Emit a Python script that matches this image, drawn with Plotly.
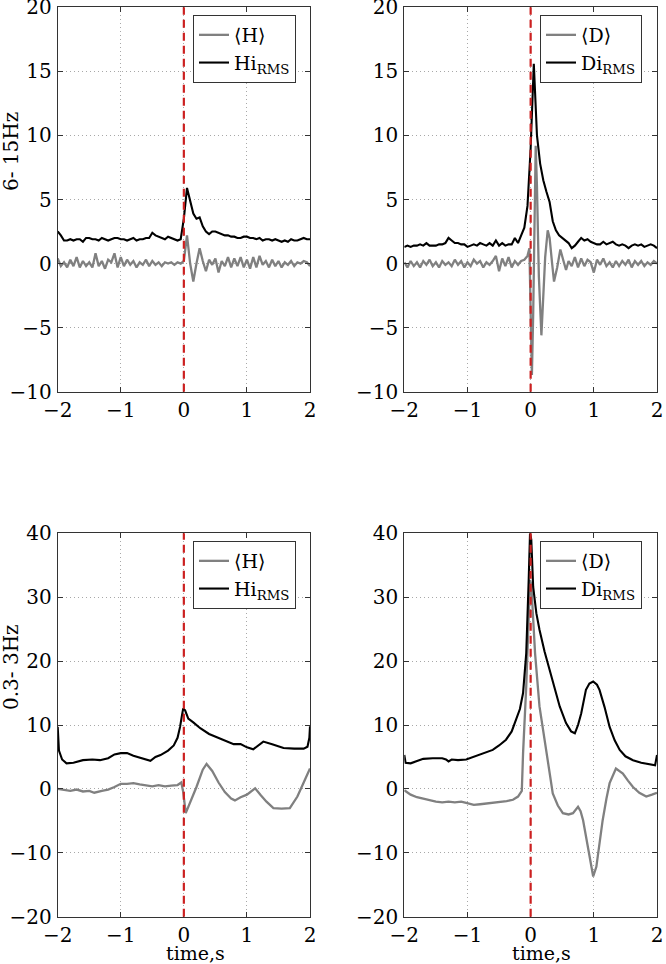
import numpy as np
import plotly.graph_objects as go

# ---------------- data ----------------
T_GRID = np.round(np.arange(-2.0, 2.0001, 0.05), 2).tolist()  # 81 samples, -2..2 s

# Top-left: 6-15 Hz, H
H_MEAN_TL = [0.4, -0.2, 0.1, -0.3, 0.3, -0.2, 0.5, -0.3, 0.2, -0.2,
             0.1, -0.3, 0.8, -0.2, 0.2, -0.4, 0.3, 0.1, 0.8, -0.3,
             0.5, -0.2, 0.3, -0.1, 0.2, -0.3, 0.1, -0.1, 0.3, -0.2,
             0.2, -0.1, 0.1, -0.2, 0.1, 0.0, 0.1, -0.1, 0.1, 0.0,
             0.2, 2.2, 0.0, -1.4, 0.0, 1.2, 0.2, -0.6, 0.3, -0.1,
             0.4, -0.7, 0.2, -0.2, 0.5, -0.3, 0.4, -0.2, 0.5, -0.3,
             0.3, -0.4, 0.5, -0.3, 0.6, -0.1, 0.2, -0.3, 0.3, -0.2,
             0.2, -0.3, 0.1, -0.1, 0.2, -0.2, 0.1, 0.0, 0.2, 0.1, -0.2]
H_RMS_TL = [2.5, 2.2, 1.8, 1.8, 1.9, 1.8, 1.9, 1.9, 1.7, 2.0,
            2.0, 1.9, 1.9, 1.8, 2.0, 1.9, 1.8, 1.9, 2.0, 2.0,
            1.9, 1.9, 1.8, 1.9, 2.0, 1.8, 1.9, 1.9, 2.0, 2.0,
            2.4, 2.2, 2.1, 2.0, 1.9, 2.1, 2.0, 1.9, 1.8, 1.9,
            3.5, 5.9, 4.8, 3.9, 3.5, 3.6, 2.9, 2.5, 2.3, 2.5,
            2.5, 2.4, 2.3, 2.2, 2.2, 2.1, 2.1, 2.0, 2.0, 2.1,
            2.1, 2.0, 2.0, 1.9, 2.0, 1.8, 1.9, 1.9, 1.8, 1.9,
            1.8, 1.7, 1.8, 1.7, 1.9, 1.8, 1.8, 1.9, 2.0, 1.9, 1.9]

# Top-right: 6-15 Hz, D
T_D_MEAN_TR = [-2.00, -1.95, -1.90, -1.85, -1.80, -1.75, -1.70, -1.65, -1.60, -1.55,
               -1.50, -1.45, -1.40, -1.35, -1.30, -1.25, -1.20, -1.15, -1.10, -1.05,
               -1.00, -0.95, -0.90, -0.85, -0.80, -0.75, -0.70, -0.65, -0.60, -0.55,
               -0.50, -0.45, -0.40, -0.35, -0.30, -0.25, -0.20, -0.15, -0.10, -0.05,
               -0.02, 0.00, 0.02, 0.04, 0.06, 0.08, 0.10, 0.13, 0.17, 0.20,
               0.23, 0.27, 0.30, 0.34, 0.37, 0.42, 0.47, 0.52, 0.56, 0.60,
               0.65, 0.70, 0.75, 0.80, 0.85, 0.90, 0.95, 1.00, 1.05, 1.10,
               1.15, 1.20, 1.25, 1.30, 1.35, 1.40, 1.45, 1.50, 1.55, 1.60,
               1.65, 1.70, 1.75, 1.80, 1.85, 1.90, 1.95, 2.00]
D_MEAN_TR = [0.1, -0.3, 0.2, -0.2, 0.1, -0.3, 0.2, -0.1, 0.3, -0.2,
             0.1, -0.3, 0.2, -0.1, 0.1, -0.2, 0.3, -0.1, 0.2, -0.3,
             0.1, -0.2, 0.3, 0.0, 0.2, -0.3, 0.1, -0.1, 0.2, 0.6,
             -0.6, 0.4, -0.2, 0.5, -0.3, 0.2, -0.1, 0.2, 0.3, 0.6,
             1.2, -3.0, -8.7, -4.0, 4.0, 9.2, 6.0, -1.0, -5.6, -3.0,
             0.5, 2.6, 2.0, 0.0, -1.4, -0.3, 1.1, 0.2, -0.5, 0.2,
             -0.2, 0.5, -0.3, 0.4, -0.2, 0.3, 0.1, -0.7, 0.3, -0.1,
             0.4, -0.2, 0.1, -0.3, 0.2, -0.2, 0.2, -0.1, 0.3, -0.3,
             0.2, -0.1, 0.2, -0.2, 0.1, -0.1, 0.2, 0.0]
D_RMS_TR = [1.3, 1.4, 1.3, 1.4, 1.4, 1.5, 1.4, 1.6, 1.4, 1.4,
            1.4, 1.5, 1.5, 1.6, 2.0, 1.8, 1.6, 1.6, 1.5, 1.5,
            1.3, 1.4, 1.5, 1.4, 1.6, 1.5, 1.4, 1.6, 1.4, 1.8,
            1.4, 1.6, 1.4, 1.5, 1.5, 2.0, 1.6, 2.2, 2.8, 4.5,
            9.0, 15.6, 10.0, 7.8, 6.5, 5.6, 4.8, 3.3, 2.6, 2.2,
            2.0, 1.8, 1.6, 1.2, 1.4, 1.7, 2.0, 1.8, 1.9, 1.7,
            1.6, 1.5, 1.5, 1.7, 1.5, 1.6, 1.7, 1.5, 1.4, 1.5,
            1.4, 1.2, 1.4, 1.5, 1.4, 1.5, 1.3, 1.4, 1.5, 1.4, 1.2]

# Bottom-left: 0.3-3 Hz, H
T_H_RMS_BL = [-2.00, -1.98, -1.93, -1.86, -1.75, -1.60, -1.45, -1.33, -1.20, -1.10,
              -1.00, -0.90, -0.80, -0.70, -0.60, -0.53, -0.45, -0.37, -0.25, -0.16,
              -0.10, -0.06, -0.03, -0.01, 0.02, 0.07, 0.15, 0.26, 0.40, 0.52,
              0.65, 0.79, 0.90, 1.00, 1.10, 1.18, 1.26, 1.40, 1.58, 1.75,
              1.90, 1.96, 1.99, 2.00]
H_RMS_BL = [9.7, 6.0, 4.6, 4.0, 4.1, 4.5, 4.6, 4.5, 4.8, 5.4,
            5.6, 5.6, 5.2, 4.9, 4.6, 4.4, 5.0, 5.3, 6.0, 6.8,
            8.0, 9.7, 11.5, 12.6, 12.3, 11.0, 10.4, 9.5, 8.6, 8.1,
            7.5, 7.0, 7.0, 6.5, 6.2, 6.8, 7.4, 7.0, 6.4, 6.3,
            6.3, 6.6, 8.0, 9.8]
T_H_MEAN_BL = [-2.00, -1.90, -1.80, -1.70, -1.60, -1.50, -1.42, -1.30, -1.20, -1.10,
               -1.00, -0.90, -0.80, -0.70, -0.60, -0.50, -0.40, -0.30, -0.20, -0.10,
               -0.04, -0.01, 0.03, 0.10, 0.20, 0.30, 0.36, 0.45, 0.55, 0.65,
               0.75, 0.81, 0.90, 1.00, 1.08, 1.13, 1.22, 1.31, 1.42, 1.55,
               1.68, 1.80, 1.90, 2.00]
H_MEAN_BL = [0.0, -0.1, -0.3, -0.1, -0.4, -0.3, -0.6, -0.3, -0.1, 0.3,
             0.8, 0.8, 0.9, 0.7, 0.5, 0.4, 0.6, 0.4, 0.5, 0.6,
             1.0, -0.5, -3.8, -2.2, 0.3, 3.0, 3.9, 2.8, 1.0, -0.5,
             -1.5, -1.8, -1.3, -0.9, -0.3, 0.1, -1.0, -2.0, -3.0, -3.1,
             -3.0, -1.2, 1.0, 3.2]

# Bottom-right: 0.3-3 Hz, D
T_D_RMS_BR = [-2.00, -1.98, -1.90, -1.80, -1.70, -1.55, -1.40, -1.34, -1.30, -1.25,
              -1.15, -1.02, -0.90, -0.75, -0.60, -0.50, -0.39, -0.30, -0.23, -0.17,
              -0.12, -0.07, -0.03, -0.01, 0.01, 0.04, 0.09, 0.14, 0.22, 0.30,
              0.38, 0.46, 0.56, 0.64, 0.70, 0.75, 0.80, 0.875, 0.93, 0.99,
              1.05, 1.09, 1.17, 1.25, 1.33, 1.41, 1.50, 1.62, 1.75, 1.88,
              1.97, 2.00]
D_RMS_BR = [5.3, 4.1, 4.0, 4.4, 4.7, 4.8, 4.8, 4.6, 4.3, 4.6,
            4.5, 4.6, 5.0, 5.6, 6.1, 6.8, 7.7, 9.0, 10.8, 12.5,
            15.0, 21.2, 33.0, 40.0, 39.0, 31.6, 27.5, 24.9, 21.5, 18.6,
            15.6, 12.9, 10.3, 9.0, 8.7, 10.0, 11.8, 15.5, 16.5, 16.8,
            16.3, 15.5, 12.8, 9.7, 7.6, 6.1, 5.1, 4.5, 4.1, 3.9,
            3.7, 5.3]
T_D_MEAN_BR = [-2.00, -1.90, -1.80, -1.65, -1.50, -1.40, -1.30, -1.20, -1.10, -1.02,
               -0.90, -0.80, -0.70, -0.60, -0.49, -0.38, -0.28, -0.20, -0.14, -0.12,
               -0.07, -0.03, -0.01, 0.01, 0.07, 0.14, 0.25, 0.35, 0.43, 0.51,
               0.60, 0.67, 0.75, 0.79, 0.83, 0.88, 0.93, 0.99, 1.04, 1.09,
               1.14, 1.20, 1.25, 1.35, 1.46, 1.54, 1.62, 1.72, 1.83, 1.92,
               2.00]
D_MEAN_BR = [-0.2, -0.9, -1.3, -1.7, -2.0, -2.1, -2.0, -2.1, -2.0, -2.2,
             -2.5, -2.4, -2.3, -2.2, -2.1, -1.9, -1.7, -1.2, -0.3, 5.6,
             16.0, 28.0, 32.7, 32.0, 21.2, 12.9, 5.6, -0.7, -2.6, -3.8,
             -4.0, -3.8, -2.8, -3.5, -4.9, -7.5, -10.1, -13.7, -12.2, -8.5,
             -4.9, -1.5, 0.9, 3.2, 2.4, 1.3, 0.3, -0.6, -1.2, -0.9,
             -0.6]

X_TICKS = [-2, -1, 0, 1, 2]
Y_TICKS_TOP = [-10, -5, 0, 5, 10, 15, 20]
Y_TICKS_BOT = [-20, -10, 0, 10, 20, 30, 40]
BAND_LABELS = ["6- 15Hz", "0.3- 3Hz"]
X_LABEL = "time,s"

# ---------------- figure ----------------
W, H = 666, 964
FONT = "DejaVu Serif"
FS = 20
GRAY = "#808080"
BLACK = "#000000"
RED = "#cc2020"

def px_x(p):
    return p / W

def px_y(p):
    return 1 - p / H

# plot areas in pixels (left, right, top, bottom)
areas = [
    (57.7, 310.0, 7.3, 391.7),
    (404.3, 657.0, 7.3, 391.7),
    (57.7, 310.0, 533.3, 916.7),
    (404.3, 657.0, 533.3, 916.7),
]

panels = [
    (T_GRID, H_MEAN_TL, T_GRID, H_RMS_TL, "⟨H⟩", "Hi<sub>RMS</sub>"),
    (T_D_MEAN_TR, D_MEAN_TR, T_GRID, D_RMS_TR, "⟨D⟩", "Di<sub>RMS</sub>"),
    (T_H_MEAN_BL, H_MEAN_BL, T_H_RMS_BL, H_RMS_BL, "⟨H⟩", "Hi<sub>RMS</sub>"),
    (T_D_MEAN_BR, D_MEAN_BR, T_D_RMS_BR, D_RMS_BR, "⟨D⟩", "Di<sub>RMS</sub>"),
]

fig = go.Figure()
layout = dict(
    template="none",
    width=W, height=H,
    margin=dict(l=0, r=0, t=0, b=0, autoexpand=False),
    paper_bgcolor="white", plot_bgcolor="white",
    font=dict(family=FONT, size=FS, color="black"),
    showlegend=True,
)

legend_x_px = [193, 540, 193, 540]
legend_y_px = [15, 15, 541, 541]
shapes = []
annotations = []

for i, ((tm, vm, tr, vr, nm, nr), (l, r, t, b)) in enumerate(zip(panels, areas)):
    k = "" if i == 0 else str(i + 1)
    xa, ya = "x" + k, "y" + k
    leg = "legend" + k
    fig.add_trace(go.Scatter(x=tm, y=vm, mode="lines", name=nm,
                             line=dict(color=GRAY, width=2.3),
                             xaxis=xa, yaxis=ya, legend=leg))
    fig.add_trace(go.Scatter(x=tr, y=vr, mode="lines", name=nr,
                             line=dict(color=BLACK, width=2.1),
                             xaxis=xa, yaxis=ya, legend=leg))
    top = i < 2
    axis_common = dict(
        automargin=False, ticklabeloverflow="allow",
        showline=True, linecolor="#333333", linewidth=1, mirror="ticks",
        ticks="inside", ticklen=5, tickcolor="#333333",
        showgrid=True, gridcolor="#a8a8a8", griddash="1px,3px", gridwidth=1,
        zeroline=False, tickfont=dict(family=FONT, size=FS, color="black"),
    )
    layout["xaxis" + k] = dict(
        domain=[px_x(l), px_x(r)], range=[-2, 2], tickvals=X_TICKS,
        anchor=ya, **axis_common)
    layout["yaxis" + k] = dict(
        domain=[px_y(b), px_y(t)],
        range=[-10, 20] if top else [-20, 40],
        tickvals=Y_TICKS_TOP if top else Y_TICKS_BOT,
        anchor=xa, ticklabelstandoff=1, **axis_common)
    layout[leg] = dict(
        x=px_x(legend_x_px[i]), y=px_y(legend_y_px[i]),
        xanchor="left", yanchor="top",
        bgcolor="white", bordercolor="#333333", borderwidth=1,
        font=dict(family=FONT, size=19, color="black"),
        itemwidth=30, tracegroupgap=0,
    )
    shapes.append(dict(type="line", xref=xa, yref=ya + " domain",
                       x0=0, x1=0, y0=0, y1=1,
                       line=dict(color=RED, width=2.2, dash="8px,5px")))

# y band labels
for lab, cy in zip(BAND_LABELS, (152, 667)):
    annotations.append(dict(text=lab, x=px_x(11), y=px_y(cy),
                            xref="paper", yref="paper", textangle=-90,
                            xanchor="center", yanchor="middle",
                            showarrow=False, font=dict(family=FONT, size=FS)))
for cx in (196, 541):
    annotations.append(dict(text=X_LABEL, x=px_x(cx), y=px_y(953),
                            xref="paper", yref="paper", showarrow=False,
                            xanchor="center", yanchor="middle",
                            font=dict(family=FONT, size=19)))

layout["shapes"] = shapes
layout["annotations"] = annotations
fig.update_layout(**layout)
fig.write_html("out.html",
               config={"displayModeBar": False},
               post_script="document.body.style.margin='0';document.body.style.overflow='hidden';")
